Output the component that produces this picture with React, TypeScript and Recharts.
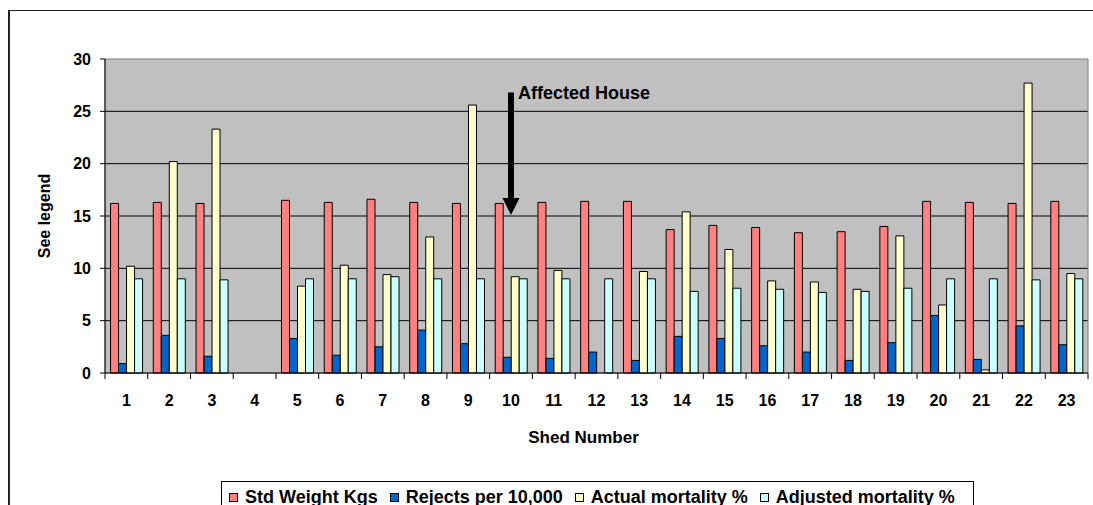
import React from "react";
import {
  Bar,
  BarChart,
  CartesianGrid,
  Legend,
  ReferenceArea,
  ReferenceLine,
  XAxis,
  YAxis,
} from "recharts";

const sheds = ["1", "2", "3", "4", "5", "6", "7", "8", "9", "10", "11", "12", "13", "14", "15", "16", "17", "18", "19", "20", "21", "22", "23"];
const stdWeight = [16.2, 16.3, 16.2, null, 16.5, 16.3, 16.6, 16.3, 16.2, 16.2, 16.3, 16.4, 16.4, 13.7, 14.1, 13.9, 13.4, 13.5, 14.0, 16.4, 16.3, 16.2, 16.4];
const rejects = [0.9, 3.6, 1.6, null, 3.3, 1.7, 2.5, 4.1, 2.8, 1.5, 1.4, 2.0, 1.2, 3.5, 3.3, 2.6, 2.0, 1.2, 2.9, 5.5, 1.3, 4.5, 2.7];
const actualMortality = [10.2, 20.2, 23.3, null, 8.3, 10.3, 9.4, 13.0, 25.6, 9.2, 9.8, null, 9.7, 15.4, 11.8, 8.8, 8.7, 8.0, 13.1, 6.5, 0.3, 27.7, 9.5];
const adjustedMortality = [9.0, 9.0, 8.9, null, 9.0, 9.0, 9.2, 9.0, 9.0, 9.0, 9.0, 9.0, 9.0, 7.8, 8.1, 8.0, 7.7, 7.8, 8.1, 9.0, 9.0, 8.9, 9.0];
const seriesNames = ["Std Weight Kgs", "Rejects per 10,000", "Actual mortality %", "Adjusted mortality %"];
const yTicks = [0, 5, 10, 15, 20, 25, 30];
const gridValues = [5, 10, 15, 20, 25];

const affectedShed = "10";
const arrowTop = 26.8;
const arrowTip = 15.1;

const data = sheds.map((shed, i) => ({
  shed,
  stdWeight: stdWeight[i],
  rejects: rejects[i],
  actualMortality: actualMortality[i],
  adjustedMortality: adjustedMortality[i],
}));

const FONT = "'Liberation Sans', Arial, sans-serif";
const tickStyle = { fill: "#000", fontSize: 16, fontWeight: "bold", fontFamily: FONT };
const X_TICK_SIZE = 6;
const X_TICK_MARGIN = 16;

// excel puts the x tick marks between categories, not under them
function ShedTick(props: any) {
  const { x, y, width, visibleTicksCount, index, payload } = props;
  const half = width / visibleTicksCount / 2;
  const axisY = y - X_TICK_MARGIN - X_TICK_SIZE;
  const isLast = index === visibleTicksCount - 1;
  return (
    <g>
      <line x1={x - half} y1={axisY} x2={x - half} y2={axisY + X_TICK_SIZE} stroke="#000" />
      {isLast && <line x1={x + half} y1={axisY} x2={x + half} y2={axisY + X_TICK_SIZE} stroke="#000" />}
      <text x={x} y={y} dy="0.71em" textAnchor="middle" {...tickStyle}>
        {payload.value}
      </text>
    </g>
  );
}

function AffectedArrow(props: any) {
  const { x1, y1, x2, y2 } = props;
  const head = 17;
  return (
    <g>
      <line x1={x1} y1={y1} x2={x2} y2={y2 - head + 1} stroke="#000" strokeWidth={6} />
      <polygon points={`${x2 - 8.5},${y2 - head} ${x2 + 8.5},${y2 - head} ${x2},${y2}`} fill="#000" />
      <text x={x1 + 7} y={y1 + 7} fontSize={18} fontWeight="bold" fontFamily={FONT} fill="#000">
        Affected House
      </text>
    </g>
  );
}

function LegendBox(props: any) {
  const items = [...(props.payload || [])].sort(
    (a: any, b: any) => seriesNames.indexOf(a.value) - seriesNames.indexOf(b.value)
  );
  return (
    <div
      style={{
        display: "inline-flex",
        alignItems: "center",
        border: "1px solid #000",
        background: "#fff",
        padding: "6px 6px 8px 7px",
        fontFamily: FONT,
        fontWeight: "bold",
        fontSize: 18,
        lineHeight: "18px",
        whiteSpace: "nowrap",
        color: "#000",
      }}
    >
      {items.map((item: any) => (
        <span key={item.value} style={{ display: "inline-flex", alignItems: "center", marginRight: 12 }}>
          <span
            style={{
              display: "inline-block",
              width: 7,
              height: 7,
              border: "1px solid #000",
              background: item.color,
              marginRight: 7,
            }}
          />
          {item.value}
        </span>
      ))}
    </div>
  );
}

export default function App() {
  return (
    <div style={{ position: "absolute", left: 0, top: 0, width: 1093, height: 505, overflow: "hidden", background: "#fff" }}>
      <div
        style={{
          position: "absolute",
          left: 8,
          top: 10,
          width: 1200,
          height: 600,
          borderLeft: "2px solid #222",
          borderTop: "1px solid #222",
        }}
      />
      <BarChart
        width={1093}
        height={505}
        data={data}
        margin={{ top: 59, right: 5, bottom: 60, left: 0 }}
        barCategoryGap="13%"
        barGap={0}
        style={{ position: "absolute", left: 0, top: 0, fontFamily: FONT }}
      >
        <CartesianGrid vertical={false} horizontalValues={gridValues} stroke="#000" fill="#C0C0C0" fillOpacity={1} />
        <ReferenceArea y1={0} y2={30} fill="none" stroke="#808080" ifOverflow="visible" />
        <XAxis
          dataKey="shed"
          height={72}
          axisLine={{ stroke: "#000" }}
          tickLine={{ stroke: "none" }}
          tickSize={X_TICK_SIZE}
          tickMargin={X_TICK_MARGIN}
          tick={<ShedTick />}
          interval={0}
          label={{
            value: "Shed Number",
            position: "insideBottom",
            offset: 2,
            dx: -13,
            fill: "#000",
            fontSize: 17,
            fontWeight: "bold",
            fontFamily: FONT,
          }}
        />
        <YAxis
          width={105}
          domain={[0, 30]}
          ticks={yTicks}
          interval={0}
          axisLine={{ stroke: "#000" }}
          tickLine={{ stroke: "#000" }}
          tickSize={5}
          tickMargin={9}
          tick={tickStyle}
          label={{
            value: "See legend",
            angle: -90,
            position: "insideLeft",
            offset: 44,
            style: { textAnchor: "middle" },
            fill: "#000",
            fontSize: 16,
            fontWeight: "bold",
            fontFamily: FONT,
          }}
        />
        <Legend
          layout="horizontal"
          verticalAlign="middle"
          align="center"
          content={<LegendBox />}
          wrapperStyle={{ top: 481, left: 221, width: "auto", height: "auto" }}
        />
        <Bar dataKey="stdWeight" name={seriesNames[0]} fill="#FF8080" stroke="#000" strokeWidth={1} isAnimationActive={false} />
        <Bar dataKey="rejects" name={seriesNames[1]} fill="#0066CC" stroke="#000" strokeWidth={1} isAnimationActive={false} />
        <Bar dataKey="actualMortality" name={seriesNames[2]} fill="#FFFFCC" stroke="#000" strokeWidth={1} isAnimationActive={false} />
        <Bar dataKey="adjustedMortality" name={seriesNames[3]} fill="#CCFFFF" stroke="#000" strokeWidth={1} isAnimationActive={false} />
        <ReferenceLine
          segment={[
            { x: affectedShed, y: arrowTop },
            { x: affectedShed, y: arrowTip },
          ]}
          shape={AffectedArrow}
        />
      </BarChart>
    </div>
  );
}
